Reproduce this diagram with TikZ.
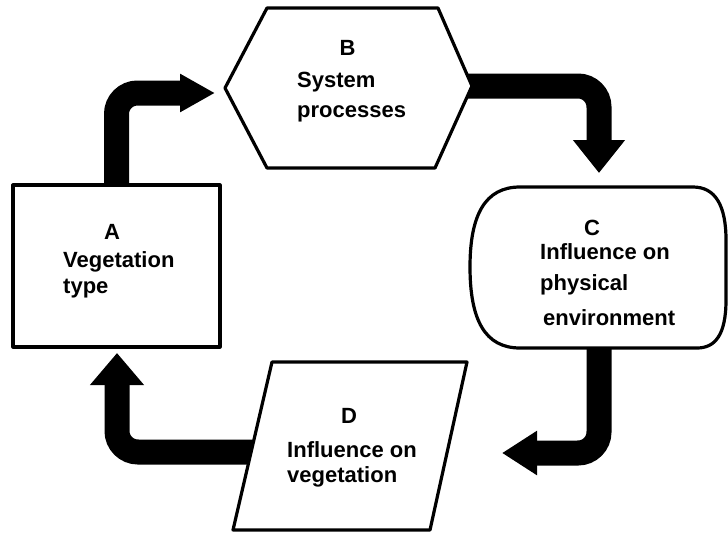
\documentclass[tikz,border=0pt]{standalone}
\usepackage{fontspec}
\setmainfont{Liberation Sans}
\usetikzlibrary{arrows.meta}
\begin{document}
\begin{tikzpicture}[x=1pt,y=-1pt,
  shapeline/.style={draw=black,line width=3.2pt,line join=round,fill=white},
  flow/.style={draw=black,line width=25pt,rounded corners=21pt},
  lbl/.style={font=\fontsize{22}{26}\selectfont\bfseries,inner sep=0pt},
]
\useasboundingbox (0,0) rectangle (728,539);
% shape centres
\coordinate (A) at (116.5,266);
\coordinate (B) at (348,86);
\coordinate (C) at (599,267);
\coordinate (D) at (350,452);
% arrow ends
\coordinate (ABend) at (215,93);
\coordinate (BCend) at (599,173);
\coordinate (CDend) at (502,453);
\coordinate (DAend) at (117,353);
% connectors
\draw[flow,-{Triangle[width=36pt,length=35pt]}] (A) |- (ABend);
\draw[flow,-{Triangle[width=50pt,length=33pt]}] (B) -| (BCend);
\draw[flow,-{Triangle[width=42pt,length=35pt]}] (C) |- (CDend);
\draw[flow,-{Triangle[width=52pt,length=32pt]}] (D) -| (DAend);
% shapes
\draw[shapeline] (13,185) rectangle (220,347);
\draw[shapeline] (225,88) -- (267,8) -- (438,8) -- (472,86) -- (435,168) -- (267,168) -- cycle;
\draw[shapeline] (520,187) -- (693,187) .. controls (715,187) and (726,205) .. (726,240)
  -- (726,300) .. controls (726,335) and (715,348) .. (697,348) -- (520,348)
  .. controls (485,348) and (470,320) .. (470,267)
  .. controls (470,215) and (485,187) .. (520,187) -- cycle;
\draw[shapeline] (272,362) -- (467,362) -- (430,530) -- (233,530) -- cycle;
% texts
\node[lbl,anchor=base] (Al) at (112,239) {A};
\node[lbl,anchor=base west] (At1) at (63,267) {Vegetation};
\node[lbl,anchor=base west] (At2) at (63,293) {type};
\node[lbl,anchor=base] (Bl) at (347.5,55) {B};
\node[lbl,anchor=base west] (Bt1) at (297,87) {System};
\node[lbl,anchor=base west] (Bt2) at (297,117) {processes};
\node[lbl,anchor=base] (Cl) at (592,235) {C};
\node[lbl,anchor=base west] (Ct1) at (540,259) {Influence on};
\node[lbl,anchor=base west] (Ct2) at (540,290) {physical};
\node[lbl,anchor=base west] (Ct3) at (543,325) {environment};
\node[lbl,anchor=base] (Dl) at (349,423) {D};
\node[lbl,anchor=base west] (Dt1) at (287,457) {Influence on};
\node[lbl,anchor=base west] (Dt2) at (287,482) {vegetation};
\end{tikzpicture}
\end{document}
